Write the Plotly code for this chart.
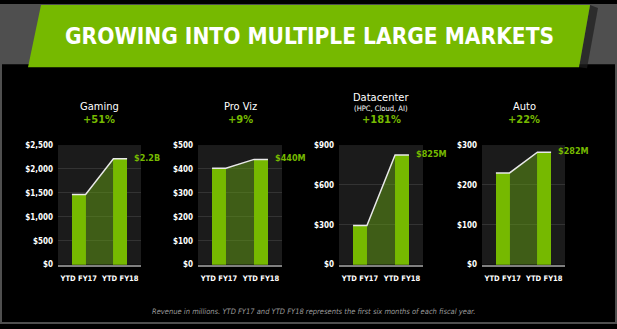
import plotly.graph_objects as go

W, H = 617, 329

# ---------------- data ----------------
categories = ["YTD FY17", "YTD FY18"]
segments = ["Gaming", "Pro Viz", "Datacenter", "Auto"]
subtitles = ["", "", "(HPC, Cloud, AI)", ""]
growth = ["+51%", "+9%", "+181%", "+22%"]
gaming = [1468, 2213]
proviz = [403, 440]
datacenter = [294, 825]
auto = [230, 282]
value_labels = ["$2.2B", "$440M", "$825M", "$282M"]
gaming_ticks = [0, 500, 1000, 1500, 2000, 2500]
proviz_ticks = [0, 100, 200, 300, 400, 500]
datacenter_ticks = [0, 300, 600, 900]
auto_ticks = [0, 100, 200, 300]
title_text = "GROWING INTO MULTIPLE LARGE MARKETS"
footnote = ("Revenue in millions. YTD FY17 and YTD FY18 represents the "
            "first six months of each fiscal year.")

series = [gaming, proviz, datacenter, auto]
ticks = [gaming_ticks, proviz_ticks, datacenter_ticks, auto_ticks]

# ---------------- styling / layout ----------------
GREEN = "#76b900"
FONT = "DejaVu Sans Condensed, DejaVu Sans, sans-serif"
NARROW = "Liberation Sans Narrow, DejaVu Sans Condensed, sans-serif"
BW = 0.33

plot_x = [(58, 141), (198, 282), (339, 423), (482, 565)]
plot_y = (145, 268)
title_cx = [99, 240, 381, 524]


def fx(p):
    return p / W


def fy(p):
    return 1 - p / H


fig = go.Figure()
layout_axes = {}
annotations = []

for i, vals in enumerate(series):
    n = "" if i == 0 else str(i + 1)
    xa, ya = "x" + n, "y" + n
    v0, v1 = vals
    # shaded growth area between the bars
    fig.add_trace(go.Scatter(
        x=[BW / 2, 1 - BW / 2, 1 - BW / 2, BW / 2],
        y=[v0, v1, 0, 0],
        fill="toself", fillcolor="rgba(100,160,20,0.5)",
        mode="lines", line=dict(width=0),
        xaxis=xa, yaxis=ya, hoverinfo="skip", showlegend=False))
    fig.add_trace(go.Bar(
        x=[0, 1], y=vals, width=BW, marker=dict(color=GREEN, line=dict(width=0)),
        xaxis=xa, yaxis=ya, showlegend=False))
    fig.add_trace(go.Scatter(
        x=[-BW / 2, BW / 2, 1 - BW / 2, 1 + BW / 2],
        y=[v0, v0, v1, v1],
        mode="lines", line=dict(color="#e8e8e8", width=1.5),
        xaxis=xa, yaxis=ya, hoverinfo="skip", showlegend=False))

    tv = ticks[i]
    layout_axes["xaxis" + n] = dict(
        domain=[fx(plot_x[i][0]), fx(plot_x[i][1])], anchor=ya,
        range=[-0.5, 1.5], tickvals=[0, 1], ticktext=categories,
        showgrid=False, zeroline=False, showline=True,
        linecolor="#808080", linewidth=2, ticks="",
        ticklabelstandoff=5,
        tickfont=dict(family=FONT, size=7.5, color="white", weight="bold"),
        fixedrange=True)
    layout_axes["yaxis" + n] = dict(
        domain=[fy(plot_y[1]), fy(plot_y[0])], anchor=xa,
        range=[0, tv[-1]], tickvals=tv,
        ticktext=["$" + f"{t:,}" for t in tv],
        showgrid=True, gridcolor="#333333", gridwidth=1,
        zeroline=False, showline=False, ticks="",
        ticklabelstandoff=4,
        tickfont=dict(family=FONT, size=8, color="white", weight="bold"),
        fixedrange=True)

    annotations.append(dict(
        x=1 + BW / 2, y=v1, xref=xa, yref=ya, xanchor="left", yanchor="middle",
        xshift=5, yshift=1, showarrow=False, text="<b>" + value_labels[i] + "</b>",
        font=dict(family=FONT, size=9, color=GREEN)))

    # segment titles
    if subtitles[i]:
        annotations.append(dict(
            x=fx(title_cx[i]), y=fy(96.5), xref="paper", yref="paper",
            xanchor="center", yanchor="middle", showarrow=False,
            text=segments[i], font=dict(family=FONT, size=11, color="white")))
        annotations.append(dict(
            x=fx(title_cx[i]), y=fy(107), xref="paper", yref="paper",
            xanchor="center", yanchor="middle", showarrow=False,
            text=subtitles[i], font=dict(family=FONT, size=7.5, color="white")))
    else:
        annotations.append(dict(
            x=fx(title_cx[i]), y=fy(105.5), xref="paper", yref="paper",
            xanchor="center", yanchor="middle", showarrow=False,
            text=segments[i], font=dict(family=FONT, size=11, color="white")))
    annotations.append(dict(
        x=fx(title_cx[i]), y=fy(118.5), xref="paper", yref="paper",
        xanchor="center", yanchor="middle", showarrow=False,
        text="<b>" + growth[i] + "</b>",
        font=dict(family=NARROW, size=11, color=GREEN)))

# main title & footnote
annotations.append(dict(
    x=fx(309), y=fy(33), xref="paper", yref="paper", xanchor="center",
    yanchor="middle", showarrow=False, text="<b>" + title_text + "</b>",
    font=dict(family=FONT, size=22.5, color="white")))
annotations.append(dict(
    x=fx(477), y=fy(316), xref="paper", yref="paper", xanchor="right",
    yanchor="middle", showarrow=False, text="<i>" + footnote + "</i>",
    font=dict(family=FONT, size=7.5, color="#9a9a9a")))

GRAY = "#4f4f4f"


def rect(x0, y0, x1, y1, color):
    return dict(type="rect", xref="paper", yref="paper", x0=fx(x0), x1=fx(x1),
                y0=fy(y1), y1=fy(y0), fillcolor=color, line=dict(width=0),
                layer="below")


def poly(points, color):
    d = "M " + " L ".join(f"{fx(a)},{fy(b)}" for a, b in points) + " Z"
    return dict(type="path", xref="paper", yref="paper", path=d,
                fillcolor=color, line=dict(width=0), layer="below")


shapes = [
    rect(0, 0, W, 62, GRAY),
    rect(0, 0, 2, H, GRAY),
    rect(615, 0, W, H, GRAY),
    rect(0, 327, W, H, GRAY),
    poly([(590, 1), (598, 4), (587, 66), (579, 65)], "rgba(30,30,30,0.7)"),
    poly([(41, 1), (590, 1), (579, 65), (28, 65)], GREEN),
]

fig.update_layout(
    width=W, height=H, autosize=False,
    margin=dict(l=0, r=0, t=0, b=0),
    paper_bgcolor="#000000", plot_bgcolor="#1b1b1b",
    showlegend=False, bargap=0,
    annotations=annotations, shapes=shapes,
    **layout_axes)

fig.write_html("out.html")
